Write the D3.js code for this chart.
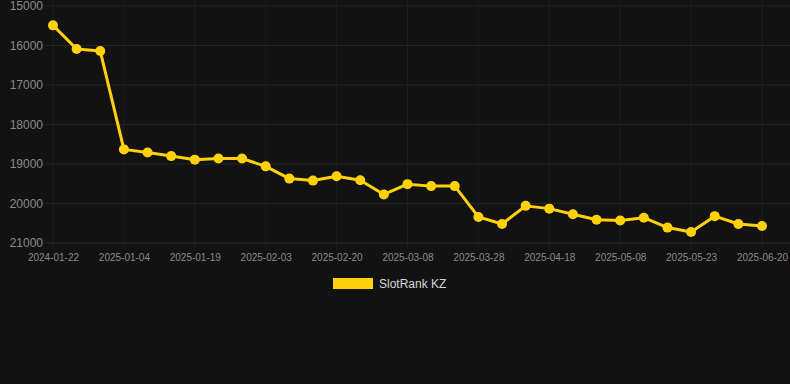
<!DOCTYPE html>
<html>
<head>
<meta charset="utf-8">
<script src="https://cdn.jsdelivr.net/npm/d3@7"></script>
<style>
  html, body { margin: 0; padding: 0; background: #121212; }
  svg { display: block; font-family: Arial, "Liberation Sans", sans-serif; }
</style>
</head>
<body>
<div id="chart"></div>
<script>
// Rank of the game over time (lower is better, so the axis is reversed)
const seriesName = 'SlotRank KZ';
const rankValues = [
  15490, 16090, 16140, 18630, 18710, 18800, 18890, 18860, 18860, 19060,
  19370, 19420, 19310, 19410, 19770, 19510, 19560, 19560, 20340, 20520,
  20060, 20130, 20270, 20410, 20430, 20360, 20610, 20720, 20320, 20520,
  20570
];
// only every third point carries a visible date label
const tickLabels = [
  '2024-01-22', '2025-01-04', '2025-01-19', '2025-02-03', '2025-02-20',
  '2025-03-08', '2025-03-28', '2025-04-18', '2025-05-08', '2025-05-23',
  '2025-06-20'
];
const yTicks = [15000, 16000, 17000, 18000, 19000, 20000, 21000];

const width = 790, height = 384;
const lineColor = '#FFD10A';

const svg = d3.select('#chart')
  .append('svg')
  .attr('width', width)
  .attr('height', height);

const idx = d3.range(rankValues.length);

const x = d3.scalePoint()
  .domain(idx)
  .range([53, 762]);

const y = d3.scaleLinear()
  .domain([15000, 21000])
  .range([6, 243]);

// vertical grid at labelled points
const tickIdx = idx.filter(i => i % 3 === 0);
svg.append('g')
  .selectAll('line')
  .data(tickIdx)
  .join('line')
  .attr('x1', d => x(d))
  .attr('x2', d => x(d))
  .attr('y1', 0)
  .attr('y2', 250)
  .attr('stroke', '#1d1d1d')
  .attr('stroke-width', 1);

// horizontal grid + y labels
svg.append('g')
  .selectAll('line')
  .data(yTicks)
  .join('line')
  .attr('x1', 45)
  .attr('x2', 790)
  .attr('y1', d => y(d))
  .attr('y2', d => y(d))
  .attr('stroke', d => d === 21000 ? '#2a2a2a' : '#232323')
  .attr('stroke-width', 1);

const yAxis = svg.append('g')
  .attr('transform', 'translate(45,0)')
  .call(d3.axisLeft(y).tickValues(yTicks).tickSize(0).tickPadding(2).tickFormat(d3.format('d')));
yAxis.select('.domain').remove();
yAxis.selectAll('text')
  .attr('fill', '#8a8a8a')
  .style('font-size', '12px');

const xAxis = svg.append('g')
  .attr('transform', 'translate(0,243)')
  .call(d3.axisBottom(x).tickValues(tickIdx).tickSize(0).tickPadding(11)
    .tickFormat(d => tickLabels[d / 3]));
xAxis.select('.domain').remove();
xAxis.selectAll('text')
  .attr('fill', '#8a8a8a')
  .style('font-size', '10px');

// line + points
const line = d3.line()
  .x((d, i) => x(i))
  .y(d => y(d));

svg.append('path')
  .datum(rankValues)
  .attr('fill', 'none')
  .attr('stroke', lineColor)
  .attr('stroke-width', 3)
  .attr('stroke-linejoin', 'round')
  .attr('d', line);

svg.append('g')
  .selectAll('circle')
  .data(rankValues)
  .join('circle')
  .attr('cx', (d, i) => x(i))
  .attr('cy', d => y(d))
  .attr('r', 5)
  .attr('fill', lineColor);

// legend
const legend = svg.append('g').attr('transform', 'translate(333,278)');
legend.append('rect')
  .attr('width', 40)
  .attr('height', 11)
  .attr('fill', lineColor);
legend.append('text')
  .attr('x', 46)
  .attr('y', 10)
  .attr('fill', '#d8d8d8')
  .style('font-size', '12px')
  .text(seriesName);
</script>
</body>
</html>
